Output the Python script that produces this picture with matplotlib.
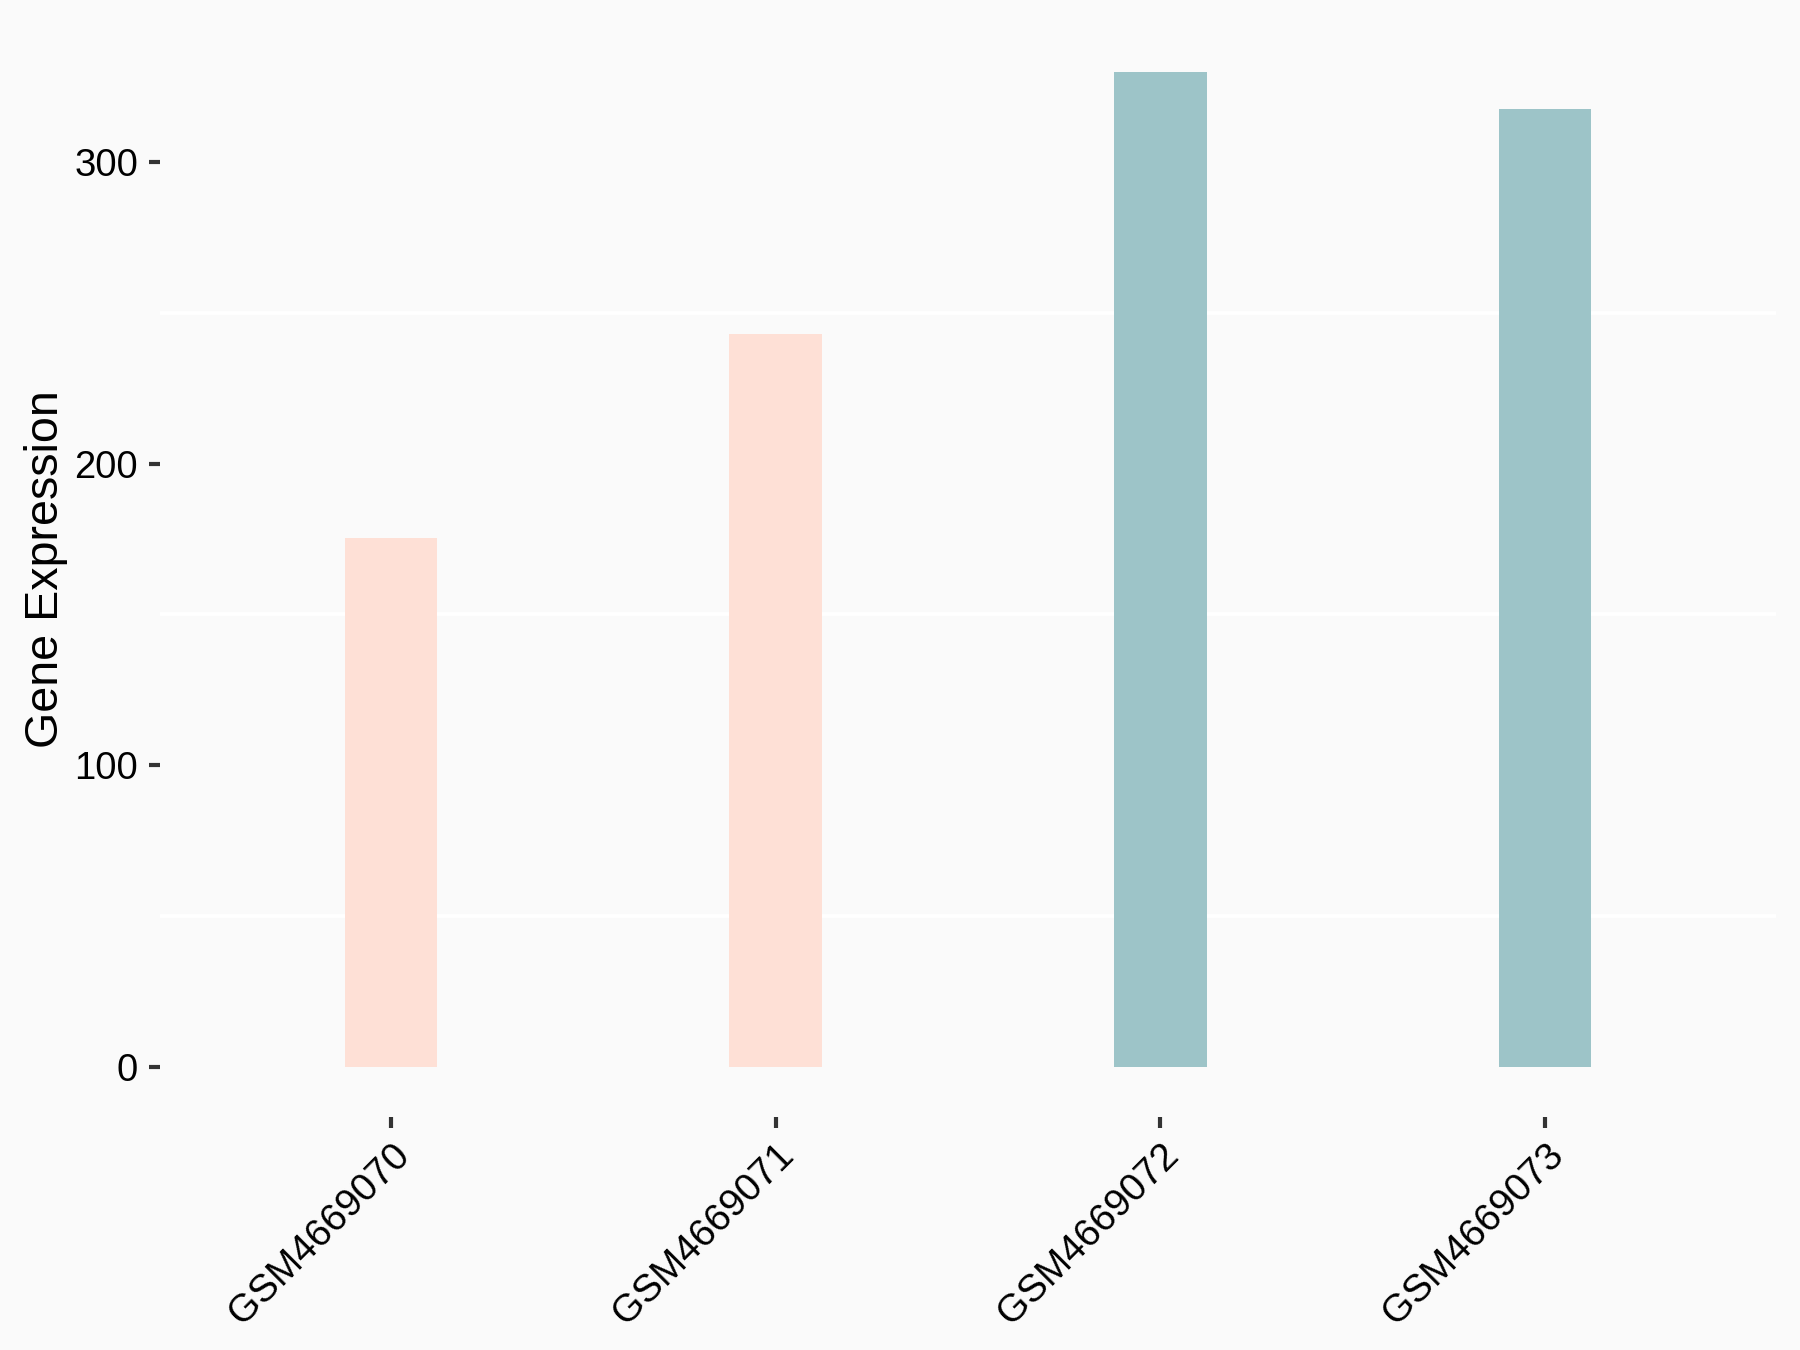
import numpy as np
import matplotlib
matplotlib.use("Agg")
import matplotlib.pyplot as plt

plt.rcParams["font.family"] = ["Liberation Sans", "DejaVu Sans"]

samples = ["GSM4669070", "GSM4669071", "GSM4669072", "GSM4669073"]
expression = [175.5, 243.0, 329.8, 317.5]
bar_colors = ["#FEE0D6", "#9DC4C8"]
groups = [0, 0, 1, 1]  # 0 = first group (pink), 1 = second group (teal)
y_ticks = [0, 100, 200, 300]
y_minor = [50, 150, 250]

bg = "#FAFAFA"
fig = plt.figure(figsize=(6, 4.5), dpi=300, facecolor=bg)
ax = fig.add_axes([0.0889, 0.1726, 0.8978, 0.8111], facecolor=bg)

x = np.arange(1, len(samples) + 1)
ax.bar(x, expression, width=0.24, color=[bar_colors[g] for g in groups],
       zorder=2, linewidth=0)

for v in y_minor:
    ax.axhline(v, color="white", linewidth=0.9, zorder=1)

ymax = max(expression)
ax.set_ylim(-0.05 * ymax, ymax * 1.05)
ax.set_xlim(0.4, len(samples) + 0.6)

ax.set_yticks(y_ticks)
ax.set_yticklabels([str(t) for t in y_ticks], fontsize=9.2, color="black")
ax.set_xticks(x)
ax.set_xticklabels(samples, fontsize=9.3, color="black", rotation=45,
                   ha="right", va="top", rotation_mode="anchor")
ax.tick_params(axis="both", length=2.75, width=1.0, color="#333333", pad=2.5)
ax.tick_params(axis="x", pad=2.0)

for s in ax.spines.values():
    s.set_visible(False)

ax.set_ylabel("Gene Expression", fontsize=11.2, color="black", labelpad=1.5)

fig.savefig("out.png", dpi=300, facecolor=bg)
